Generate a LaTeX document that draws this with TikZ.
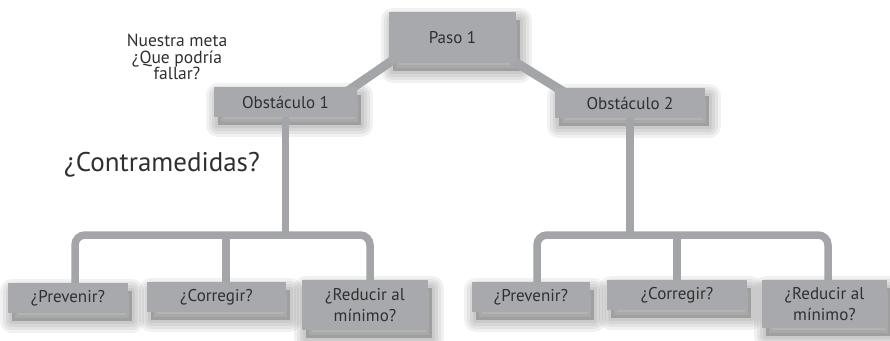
\documentclass[tikz,border=0pt]{standalone}
\usepackage{fontspec}
\setmainfont{PT Sans}
\usetikzlibrary{calc}

\definecolor{boxgray}{HTML}{A7A9AC}
\definecolor{linkgray}{HTML}{A4A5A8}
\definecolor{inkgray}{HTML}{303032}

\tikzset{
  % stacked, widening translucent copies give a soft cast shadow
  halo/.style={preaction={draw=black,fill=black,opacity=0.055,line width=#1,
      line join=round,transform canvas={xshift=4pt,yshift=-8pt}}},
  softshadow/.style={halo=24pt,halo=18pt,halo=12pt,halo=6pt},
  card/.style={rectangle,fill=boxgray,text=inkgray,inner sep=0pt,
      align=center,font=\fontsize{17}{19}\selectfont,softshadow},
  tallcard/.style={card,font=\fontsize{17}{21.5}\selectfont},
  link/.style={draw=linkgray,line width=7.5pt,line cap=butt},
  slant/.style={link,line width=9pt},
  note/.style={text=inkgray,align=center,inner sep=0pt},
}

\begin{document}
\begin{tikzpicture}[x=1pt,y=-1pt]
\useasboundingbox[fill=white] (0,0) rectangle (890,340);

% step and obstacles
\node[card,minimum width=127pt,minimum height=51pt] (paso) at (452.5,37.5) {Paso 1};
\node[card,minimum width=143pt,minimum height=30pt] (obs1) at (285.5,102) {Obstáculo 1};
\node[card,minimum width=150pt,minimum height=30pt] (obs2) at (630,103) {Obstáculo 2};

% countermeasures
\node[card,minimum width=120pt,minimum height=30pt] (p1) at (68,298) {¿Prevenir?};
\node[card,minimum width=139pt,minimum height=30pt] (c1) at (216.5,297) {¿Corregir?};
\node[tallcard,minimum width=126pt,minimum height=50pt] (r1) at (365,305) {¿Reducir al\\mínimo?};

\node[card,minimum width=118pt,minimum height=30pt] (p2) at (531,297) {¿Prevenir?};
\node[card,minimum width=140pt,minimum height=30pt] (c2) at (677,295) {¿Corregir?};
\node[tallcard,minimum width=125pt,minimum height=48pt] (r2) at (824.5,304) {¿Reducir al\\mínimo?};

% free captions
\node[note,font=\fontsize{17.5}{16.5}\selectfont] (goal) at (177,57) {Nuestra meta\\¿Que podría\\fallar?};
\node[note,font=\fontsize{27}{30}\selectfont] (counter) at (162,165) {¿Contramedidas?};

% rails of the two brackets
\coordinate (lrail)  at (75,235);
\coordinate (lmid)   at (226,235);
\coordinate (rrail)  at (370,235);
\coordinate (lrail2) at (537,235);
\coordinate (lmid2)  at (677,235);
\coordinate (rrail2) at (828,235);

% step to obstacles, kept outside the three boxes
\begin{scope}[even odd rule]
  \clip (0,0) rectangle (890,340)
    (paso.south west) rectangle (paso.north east)
    (obs1.south west) rectangle (obs1.north east)
    (obs2.south west) rectangle (obs2.north east);
  \draw[slant] ($(paso.south west)+(4,-3)$) -- ($(obs1.north east)+(-12,6)$);
  \draw[slant] ($(paso.south east)+(-4,-3)$) -- ($(obs2.north west)+(12,6)$);
\end{scope}

% left bracket
\draw[link] (obs1.south) -- (obs1.south |- lrail);
\draw[link,rounded corners=10pt] (lrail |- p1.north) -- (lrail) -- (rrail) -- (rrail |- r1.north);
\draw[link] (lmid) -- (lmid |- c1.north);

% right bracket
\draw[link] (obs2.south) -- (obs2.south |- lrail2);
\draw[link,rounded corners=10pt] (lrail2 |- p2.north) -- (lrail2) -- (rrail2) -- (rrail2 |- r2.north);
\draw[link] (lmid2) -- (lmid2 |- c2.north);
\end{tikzpicture}
\end{document}
